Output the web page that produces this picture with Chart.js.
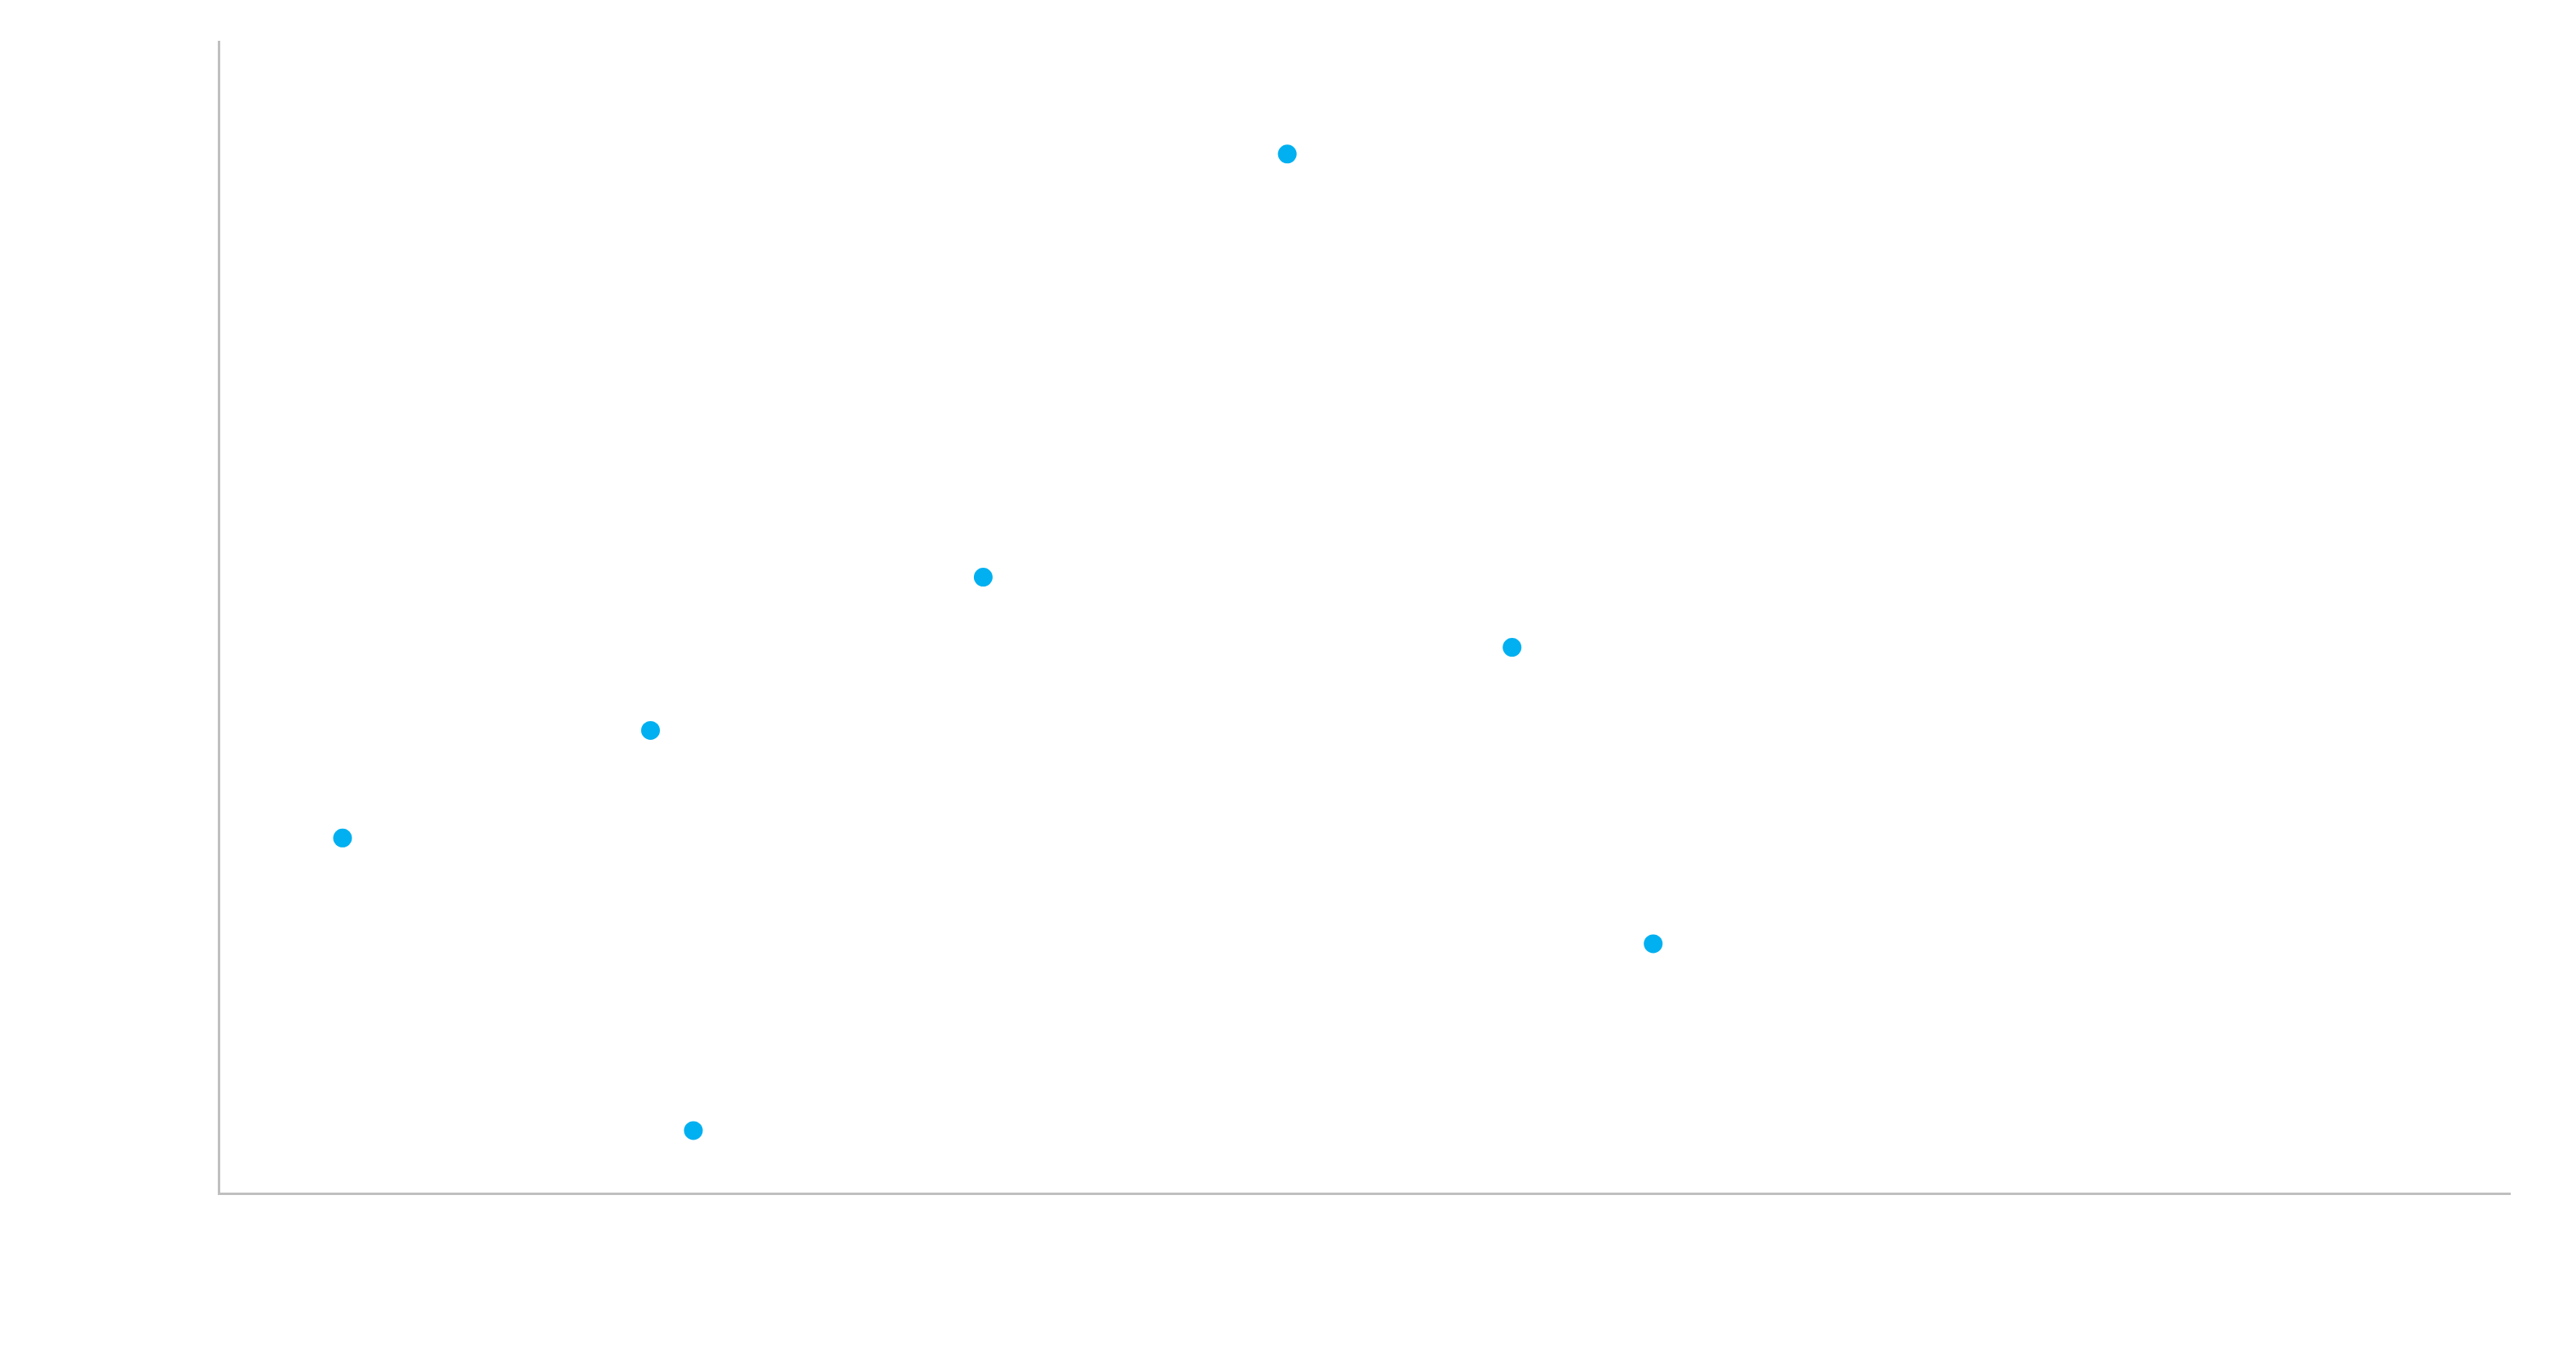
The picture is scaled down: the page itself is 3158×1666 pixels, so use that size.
<!DOCTYPE html>
<html>
<head>
<meta charset="utf-8">
<script src="https://cdn.jsdelivr.net/npm/chart.js@4"></script>
<style>
  html, body { margin: 0; padding: 0; background: #ffffff; }
  #wrap { width: 3158px; height: 1666px; }
</style>
</head>
<body>
<div id="wrap"><canvas id="c" width="3158" height="1666"></canvas></div>
<script>
const xValues = [5.41, 18.85, 20.72, 33.37, 46.64, 56.45, 62.61];
const yValues = [30.86, 40.20, 5.46, 53.50, 90.24, 47.41, 21.68];
const xRange = [0, 100];
const yRange = [0, 100];

const points = xValues.map((x, i) => ({ x: x, y: yValues[i] }));

new Chart(document.getElementById('c'), {
  type: 'scatter',
  data: {
    datasets: [{
      label: 'Series 1',
      data: points,
      backgroundColor: '#00B0F0',
      borderColor: '#00B0F0',
      borderWidth: 0,
      pointRadius: 11.5,
      pointHoverRadius: 11.5
    }]
  },
  options: {
    responsive: false,
    animation: false,
    events: [],
    layout: { padding: { left: 268, top: 51, right: 81, bottom: 203 } },
    plugins: { legend: { display: false }, tooltip: { enabled: false } },
    scales: {
      x: {
        type: 'linear',
        min: xRange[0], max: xRange[1],
        ticks: { display: false },
        grid: { display: false, drawTicks: false },
        border: { display: true, color: '#BFBFBF', width: 3 }
      },
      y: {
        type: 'linear',
        min: yRange[0], max: yRange[1],
        ticks: { display: false },
        grid: { display: false, drawTicks: false },
        border: { display: true, color: '#BFBFBF', width: 3 }
      }
    }
  }
});
</script>
</body>
</html>
